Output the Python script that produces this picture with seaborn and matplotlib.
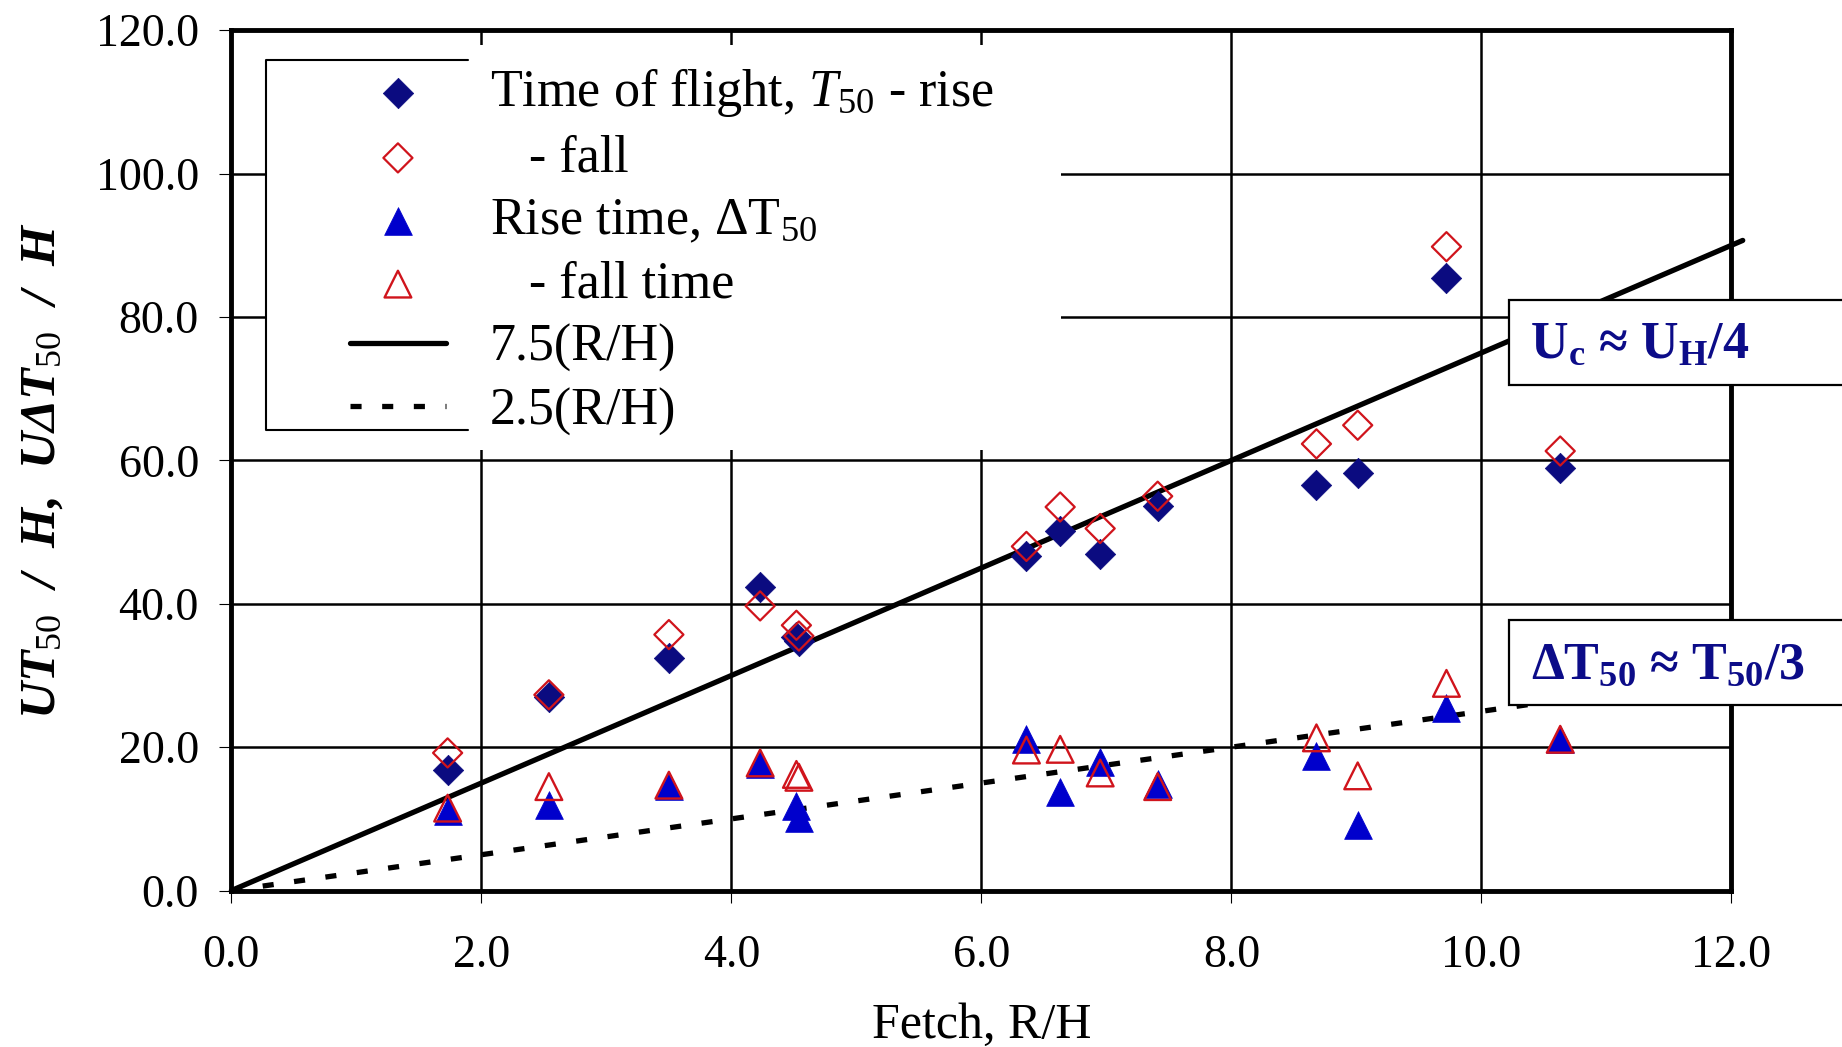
import matplotlib
matplotlib.use("Agg")
import matplotlib.pyplot as plt
from matplotlib.patches import Rectangle
from matplotlib.lines import Line2D
from matplotlib.ticker import FormatStrFormatter, MultipleLocator
import seaborn as sns

# Fetch positions of the measurement stations (R/H)
fetch = [1.73, 2.54, 3.50, 4.23, 4.52, 4.54, 6.36, 6.63, 6.95, 7.41, 8.68, 9.01, 9.72, 10.63]

# Normalised time of flight, U T50 / H
tof_rise = [16.8, 27.0, 32.4, 42.4, 35.4, 34.8, 46.6, 50.1, 47.0, 53.6, 56.6, 58.2, 85.4, 59.0]
tof_fall = [19.2, 27.3, 35.7, 39.7, 37.0, 35.5, 48.0, 53.5, 50.5, 55.0, 62.3, 64.9, 89.8, 61.3]

# Normalised rise / fall time, U dT50 / H
rise_time = [11.1, 12.0, 14.6, 17.6, 11.8, 10.1, 21.2, 13.8, 18.0, 14.9, 18.7, 9.1, 25.5, 21.1]
fall_time = [11.5, 14.5, 14.7, 17.8, 16.2, 15.8, 19.6, 19.7, 16.4, 14.5, 21.3, 16.0, 28.9, 21.1]

# Reference lines  y = slope * (R/H)
steep_slope = 7.5
shallow_slope = 2.5
steep_x = [0.0, 12.09]
shallow_x = [0.0, 10.4]

labels = {
    "tof_rise": "Time of flight, $T_{50}$ - rise",
    "tof_fall": "   - fall",
    "rise": "Rise time, \u0394T$_{50}$",
    "fall": "   - fall time",
    "steep": "7.5(R/H)",
    "shallow": "2.5(R/H)",
}

NAVY = "#0b0b80"
BLUE = "#0000cc"
RED = "#d0141c"
NOTE = "#0c0c88"

sns.set_style("white")
plt.rcParams.update({
    "font.family": ["Liberation Serif", "DejaVu Serif"],
    "mathtext.fontset": "custom",
    "mathtext.rm": "Liberation Serif",
    "mathtext.it": "Liberation Serif:italic",
    "mathtext.bf": "Liberation Serif:bold",
    "mathtext.bfit": "Liberation Serif:bold:italic",
    "text.color": "black",
    "axes.labelcolor": "black",
})

fig = plt.figure(figsize=(18.42, 10.47), dpi=100, facecolor="white")
ax = fig.add_axes([0.1256, 0.1494, 0.8144, 0.8218])

# markers
sns.scatterplot(x=fetch, y=tof_rise, marker="D", s=240, color=NAVY,
                edgecolor=NAVY, linewidth=0.5, label=labels["tof_rise"],
                zorder=3, ax=ax)
sns.scatterplot(x=fetch, y=tof_fall, marker="D", s=220, color=RED,
                facecolors="none", edgecolor=RED, linewidth=1.6,
                label=labels["tof_fall"], zorder=3.1, ax=ax)
sns.scatterplot(x=fetch, y=rise_time, marker="^", s=400, color=BLUE,
                edgecolor=BLUE, linewidth=0.5, label=labels["rise"],
                zorder=3.2, ax=ax)
sns.scatterplot(x=fetch, y=fall_time, marker="^", s=370, color=RED,
                facecolors="none", edgecolor=RED, linewidth=1.7,
                label=labels["fall"], zorder=3.3, ax=ax)

# reference lines
sns.lineplot(x=steep_x, y=[steep_slope * v for v in steep_x], color="black",
             lw=3.8, label=labels["steep"], clip_on=False, zorder=2, ax=ax)
sns.lineplot(x=shallow_x, y=[shallow_slope * v for v in shallow_x], color="black",
             lw=3.8, linestyle=(0, (2.1, 3.9)), label=labels["shallow"],
             zorder=2, ax=ax)

ax.set_xlim(0, 12)
ax.set_ylim(0, 120)
ax.xaxis.set_major_locator(MultipleLocator(2))
ax.yaxis.set_major_locator(MultipleLocator(20))
ax.xaxis.set_major_formatter(FormatStrFormatter("%.1f"))
ax.yaxis.set_major_formatter(FormatStrFormatter("%.1f"))
ax.tick_params(axis="both", direction="out", length=8.6, width=0.8,
               labelsize=33, colors="black", top=False, right=False,
               bottom=True, left=True)
ax.tick_params(axis="x", pad=23)
ax.tick_params(axis="y", pad=14.7)

ax.grid(True, color="black", lw=1.8)
ax.set_axisbelow(True)
for sp in ax.spines.values():
    sp.set_visible(True)
    sp.set_color("black")
    sp.set_linewidth(3.5)

ax.set_xlabel("Fetch, R/H", fontsize=36, va="baseline")
ax.xaxis.set_label_coords(0.5, -0.171)
ax.set_ylabel("UT$_{50}$  /  H,  U\u0394T$_{50}$  /  H", fontsize=37,
              fontweight="bold", fontstyle="italic", va="baseline")
ax.yaxis.set_label_coords(-0.118, 0.488)

# legend panel: white backing and partial frame
ax.add_patch(Rectangle((0.0231, 0.512), 0.53, 0.4705, transform=ax.transAxes,
                       facecolor="white", edgecolor="none", zorder=1.5))
ax.add_line(Line2D([0.1579, 0.0231, 0.0231, 0.1579],
                   [0.9658, 0.9658, 0.535, 0.535], transform=ax.transAxes,
                   color="black", lw=1.5, zorder=1.6))

handles, hlabels = ax.get_legend_handles_labels()
order = [labels[k] for k in ["tof_rise", "tof_fall", "rise", "fall", "steep", "shallow"]]
hmap = dict(zip(hlabels, handles))
leg = ax.legend([hmap[l] for l in order], order, loc="upper left",
                bbox_to_anchor=(0.0791, 0.9578), frameon=False, fontsize=37.5,
                handlelength=1.84, handletextpad=0.85, labelspacing=0.29,
                borderpad=0, borderaxespad=0, scatterpoints=1)
leg.set_zorder(6)

# boxed annotations at the right edge
fig.add_artist(Rectangle((0.8192, 0.6323), 0.3, 0.0812, transform=fig.transFigure,
                         facecolor="white", edgecolor="black", lw=1.6, zorder=5))
fig.text(0.8306, 0.6578, "U$_\\mathbf{c}$ \u2248 U$_\\mathbf{H}$/4", fontsize=37.5,
         fontweight="bold", color=NOTE, zorder=6)
fig.add_artist(Rectangle((0.8192, 0.3266), 0.3, 0.0812, transform=fig.transFigure,
                         facecolor="white", edgecolor="black", lw=1.6, zorder=5))
fig.text(0.8312, 0.3512, "\u0394T$_\\mathbf{50}$ \u2248 T$_\\mathbf{50}$/3", fontsize=37.5,
         fontweight="bold", color=NOTE, zorder=6)

fig.savefig("out.png", dpi=100, facecolor="white")
